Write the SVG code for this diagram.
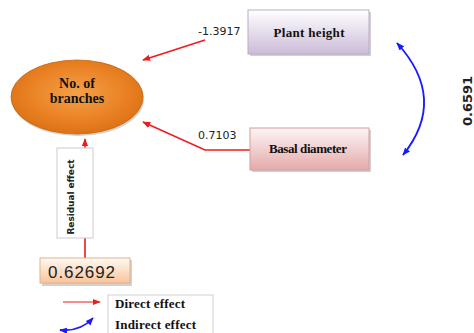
<svg xmlns="http://www.w3.org/2000/svg" width="474" height="333" viewBox="0 0 474 333">
<defs>
<radialGradient id="gOrange" cx="0.5" cy="0.45" r="0.6">
<stop offset="0" stop-color="#f4a04a"/>
<stop offset="0.6" stop-color="#ea8224"/>
<stop offset="1" stop-color="#d86e12"/>
</radialGradient>
<linearGradient id="gPurple" x1="0" y1="0" x2="0" y2="1">
<stop offset="0" stop-color="#ffffff"/>
<stop offset="1" stop-color="#cbbbd8"/>
</linearGradient>
<linearGradient id="gPink" x1="0" y1="0" x2="0" y2="1">
<stop offset="0" stop-color="#fdf5f5"/>
<stop offset="1" stop-color="#e4aaaa"/>
</linearGradient>
<linearGradient id="gPeach" x1="0" y1="0" x2="0" y2="1">
<stop offset="0" stop-color="#fffaf4"/>
<stop offset="1" stop-color="#f8c49a"/>
</linearGradient>
<marker id="aRed" viewBox="0 0 10 10" refX="9" refY="5" markerWidth="8" markerHeight="8" markerUnits="userSpaceOnUse" orient="auto">
<path d="M0,1 L10,5 L0,9 Z" fill="#ee1c1c"/>
</marker>
<marker id="aBlue" viewBox="0 0 10 10" refX="9" refY="5" markerWidth="8" markerHeight="8" markerUnits="userSpaceOnUse" orient="auto-start-reverse">
<path d="M0,1 L10,5 L0,9 Z" fill="#1a1aff"/>
</marker>
</defs>
<style>
.red{fill:none;stroke:#ee1c1c;stroke-width:1.6}
.blue{fill:none;stroke:#1a1aff;stroke-width:1.8}
.lbl{font-family:"Liberation Serif","Times New Roman",serif;font-weight:bold;font-size:13px;fill:#111}
.num{font-family:"DejaVu Sans",sans-serif;font-size:11px;fill:#222}
.shadow{fill:#000;opacity:0.18}
</style>

<g id="connectors">
<path class="red" d="M205,40 L143,60" marker-end="url(#aRed)"/>
<path class="red" d="M250,150 L205,150 L143,122" marker-end="url(#aRed)"/>
<path class="red" d="M85,258 L85,139" marker-end="url(#aRed)"/>
<path class="blue" d="M397,43 Q448,99 403,155" marker-start="url(#aBlue)" marker-end="url(#aBlue)"/>
<text class="num" x="198" y="35">-1.3917</text>
<text class="num" x="198" y="139">0.7103</text>
<text x="467" y="101" transform="rotate(-90 467 101)" text-anchor="middle" dominant-baseline="central" style="font-family:'DejaVu Sans',sans-serif;font-weight:bold;font-size:13px;fill:#222">0.6591</text>
</g>

<g id="branches">
<ellipse cx="78" cy="99" rx="66" ry="37" class="shadow"/>
<ellipse cx="77" cy="97" rx="66" ry="37" fill="url(#gOrange)" stroke="#c8660f" stroke-width="0.8"/>
<text class="lbl" x="77" y="88" text-anchor="middle" style="font-size:14px">No. of</text>
<text class="lbl" x="77" y="103" text-anchor="middle" style="font-size:14px">branches</text>
</g>

<g id="plant-height">
<rect x="250" y="12" width="121" height="44" class="shadow"/>
<rect x="248" y="10" width="121" height="44" fill="url(#gPurple)" stroke="#bcaccb" stroke-width="1"/>
<text class="lbl" x="309" y="37" text-anchor="middle" textLength="71">Plant height</text>
</g>

<g id="basal-diameter">
<rect x="252" y="130" width="119" height="42" class="shadow"/>
<rect x="250" y="128" width="119" height="42" fill="url(#gPink)" stroke="#d89c9c" stroke-width="1"/>
<text class="lbl" x="308" y="153" text-anchor="middle" textLength="78">Basal diameter</text>
</g>

<g id="residual-effect">
<rect x="57" y="148" width="36" height="90" fill="#ffffff" stroke="#cccccc" stroke-width="1"/>
<text x="70.5" y="197" transform="rotate(-90 70.5 197)" text-anchor="middle" dominant-baseline="central" style="font-family:'DejaVu Sans',sans-serif;font-weight:bold;font-size:9px;fill:#222" textLength="75">Residual effect</text>
</g>

<g id="residual-value">
<rect x="42" y="260" width="90" height="26" class="shadow"/>
<rect x="40" y="258" width="90" height="25" fill="url(#gPeach)" stroke="#e8b088" stroke-width="1"/>
<text x="48" y="278" style="font-family:'Liberation Sans',Arial,sans-serif;font-size:17px;fill:#222" textLength="67">0.62692</text>
</g>

<g id="legend">
<path class="red" d="M63,302 L100,302" marker-end="url(#aRed)" style="stroke-width:1.2"/>
<path class="blue" d="M60,330 Q80,332 93,318" marker-start="url(#aBlue)" marker-end="url(#aBlue)"/>
<rect x="108" y="295" width="105" height="45" fill="#ffffff" stroke="#d0d0d0" stroke-width="1"/>
<text class="lbl" x="115" y="308" textLength="70">Direct effect</text>
<text class="lbl" x="115" y="329" textLength="81">Indirect effect</text>
</g>
</svg>
